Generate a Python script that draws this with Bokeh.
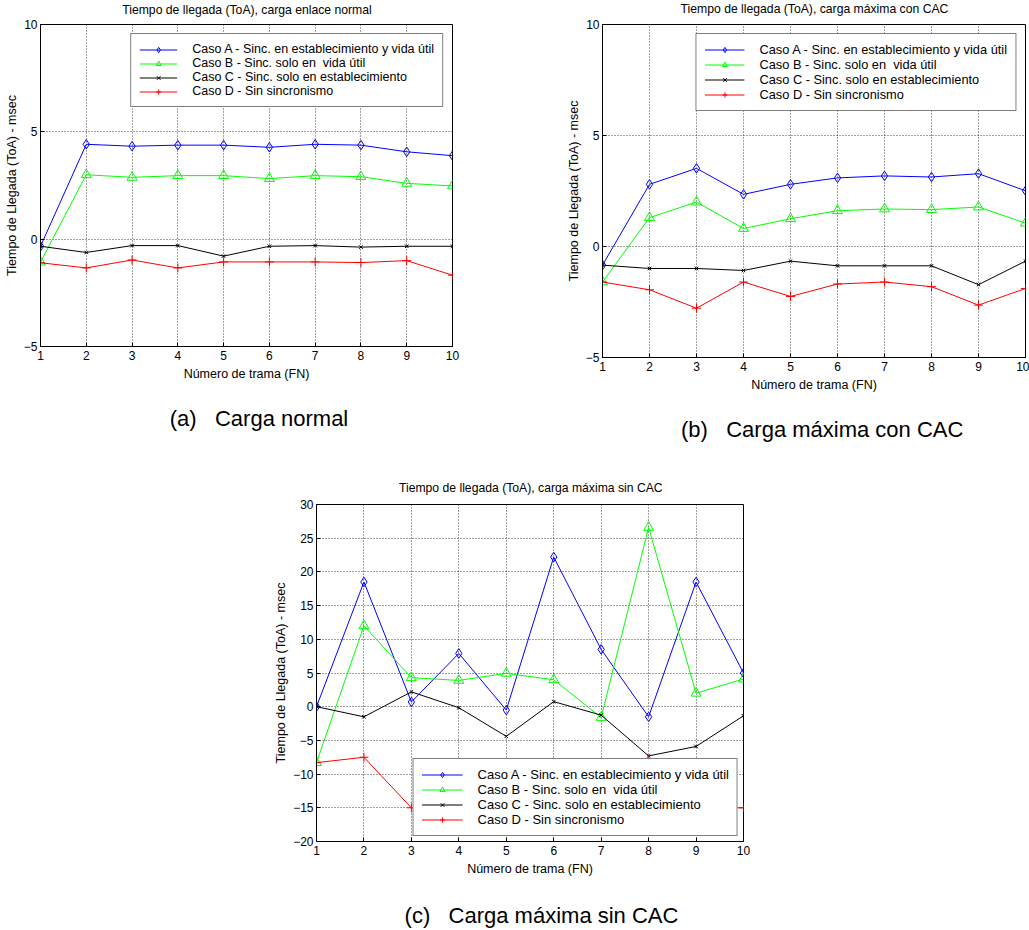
from bokeh.plotting import figure
from bokeh.models import Range1d, FixedTicker, Label, Spacer
from bokeh.layouts import column, row
from bokeh.embed import file_html
from bokeh.resources import INLINE

# ---------------- data ----------------
frames = [1, 2, 3, 4, 5, 6, 7, 8, 9, 10]

series_labels = [
    "Caso A - Sinc. en establecimiento y vida útil",
    "Caso B - Sinc. solo en  vida útil",
    "Caso C - Sinc. solo en establecimiento",
    "Caso D - Sin sincronismo",
]

# (a) carga enlace normal
a_caso_a = [-0.33, 4.42, 4.33, 4.38, 4.38, 4.28, 4.42, 4.38, 4.07, 3.89]
a_caso_b = [-1.07, 3.00, 2.88, 2.96, 2.96, 2.82, 2.96, 2.91, 2.60, 2.48]
a_caso_c = [-0.33, -0.62, -0.30, -0.30, -0.79, -0.33, -0.30, -0.37, -0.33, -0.33]
a_caso_d = [-1.10, -1.34, -0.97, -1.34, -1.06, -1.06, -1.06, -1.09, -1.00, -1.68]

# (b) carga máxima con CAC
b_caso_a = [-0.84, 2.80, 3.52, 2.35, 2.80, 3.09, 3.18, 3.13, 3.28, 2.51]
b_caso_b = [-1.60, 1.30, 2.00, 0.81, 1.25, 1.61, 1.69, 1.66, 1.78, 1.05]
b_caso_c = [-0.84, -0.99, -0.99, -1.08, -0.66, -0.87, -0.87, -0.87, -1.72, -0.66]
b_caso_d = [-1.60, -1.95, -2.78, -1.60, -2.25, -1.69, -1.60, -1.81, -2.64, -1.89]

# (c) carga máxima sin CAC
c_caso_a = [0.0, 18.5, 0.7, 7.9, -0.5, 22.2, 8.5, -1.5, 18.5, 5.0]
c_caso_b = [-8.3, 12.0, 4.3, 3.9, 4.95, 4.0, -1.6, 26.6, 2.0, 4.1]
c_caso_c = [0.0, -1.5, 2.2, -0.15, -4.4, 0.75, -1.25, -7.3, -5.9, -1.35]
c_caso_d = [-8.3, -7.5, -15.0, -15.0, -15.0, -15.0, -15.0, -7.9, -15.0, -15.0]

yticks_ab = [-5, 0, 5, 10]
yticks_c = [-20, -15, -10, -5, 0, 5, 10, 15, 20, 25, 30]

titles = [
    "Tiempo de llegada (ToA), carga enlace normal",
    "Tiempo de llegada (ToA), carga máxima con CAC",
    "Tiempo de llegada (ToA), carga máxima sin CAC",
]
captions = [
    "(a)\u00a0\u00a0\u00a0Carga normal",
    "(b)\u00a0\u00a0\u00a0Carga máxima con CAC",
    "(c)\u00a0\u00a0\u00a0Carga máxima sin CAC",
]
xlabel = "Número de trama (FN)"
ylabel = "Tiempo de Llegada (ToA) - msec"

# ---------------- styles ----------------
colors = ["#0000ff", "#00ff00", "#000000", "#ff0000"]
FONT = "Liberation Sans"
PAGE_W = 1029


def panel(fw, fh, mbl, mbr, mbt, mbb, yr, yticks, data, legend_loc, legend_margin,
          glyph_w, legend_font):
    p = figure(frame_width=fw, frame_height=fh, x_range=Range1d(1, 10), y_range=Range1d(*yr),
               output_backend="svg", toolbar_location=None,
               min_border_left=mbl, min_border_right=mbr,
               min_border_top=mbt, min_border_bottom=mbb)
    if "frame_align" in p.properties():
        p.frame_align = False
    p.background_fill_color = "white"
    p.border_fill_color = "white"
    p.outline_line_color = "black"
    p.outline_line_width = 1
    p.outline_line_alpha = 1

    for g in (p.xgrid[0], p.ygrid[0]):
        g.grid_line_color = "black"
        g.grid_line_dash = "1 2"
        g.grid_line_alpha = 0.75
        g.grid_line_width = 1

    p.xaxis.ticker = FixedTicker(ticks=frames)
    p.yaxis.ticker = FixedTicker(ticks=yticks)
    for ax in (p.xaxis[0], p.yaxis[0]):
        ax.major_tick_in = 4
        ax.major_tick_out = 0
        ax.minor_tick_line_color = None
        ax.axis_line_color = "black"
        ax.major_tick_line_color = "black"
        ax.major_label_text_font = FONT
        ax.major_label_text_font_size = "12px"
        ax.major_label_text_color = "black"
        ax.axis_label_text_font = FONT
        ax.axis_label_text_font_size = "12.5px"
        ax.axis_label_text_font_style = "normal"
        ax.axis_label_text_color = "black"
    p.xaxis.axis_label = xlabel
    p.yaxis.axis_label = ylabel
    p.xaxis.major_label_standoff = 4
    p.xaxis.axis_label_standoff = 4
    p.yaxis.major_label_standoff = 3
    p.yaxis.axis_label_standoff = 2

    va, vb, vc, vd = data
    la, lb, lc, ld = series_labels
    p.line(frames, va, color=colors[0], line_width=1, legend_label=la)
    p.scatter(frames, va, marker="diamond", size=9.5,
              line_color=colors[0], fill_alpha=0, line_width=1, legend_label=la)
    p.line(frames, vb, color=colors[1], line_width=1, legend_label=lb)
    p.scatter(frames, vb, marker="triangle", size=10,
              line_color=colors[1], fill_alpha=0, line_width=1, legend_label=lb)
    p.line(frames, vc, color=colors[2], line_width=1, legend_label=lc)
    p.scatter(frames, vc, marker="x", size=5,
              line_color=colors[2], line_width=1, legend_label=lc)
    p.line(frames, vd, color=colors[3], line_width=1, legend_label=ld)
    p.scatter(frames, vd, marker="cross", size=9,
              line_color=colors[3], line_width=1, legend_label=ld)

    lg = p.legend[0]
    lg.location = legend_loc
    lg.margin = legend_margin
    lg.border_line_color = "black"
    lg.border_line_width = 1.5
    lg.background_fill_color = "white"
    lg.background_fill_alpha = 1
    lg.label_text_font = FONT
    lg.label_text_font_size = legend_font
    lg.label_text_color = "black"
    lg.glyph_width = glyph_w
    lg.glyph_height = 13
    lg.label_height = 13
    lg.label_standoff = 15
    lg.spacing = 0
    lg.padding = 8
    return p


def text_strip(h, items):
    """A blank strip of the page carrying titles / captions as text labels."""
    s = figure(width=PAGE_W, height=h, x_range=Range1d(0, PAGE_W), y_range=Range1d(0, h),
               x_axis_type=None, y_axis_type=None, output_backend="svg",
               toolbar_location=None, min_border=0, min_border_left=0,
               min_border_right=0, min_border_top=0, min_border_bottom=0)
    if "frame_align" in s.properties():
        s.frame_align = False
    s.outline_line_color = None
    s.background_fill_color = "white"
    s.border_fill_color = "white"
    s.xgrid.visible = False
    s.ygrid.visible = False
    for text, x, y, size in items:
        s.add_layout(Label(x=x, y=y, x_units="screen", y_units="screen", text=text,
                           text_align="center", text_baseline="middle",
                           text_font=FONT, text_font_size=size, text_color="black"))
    return s


# strip with the two upper titles (page y 0..18)
top_strip = text_strip(18, [(titles[0], 246.5, 8.9, "12.2px"),
                            (titles[1], 814, 9.4, "12.2px")])

# row 1 (page y 18..400)
pa = panel(412, 322, 40, 96, 6, 54, (-5, 10), yticks_ab,
           [a_caso_a, a_caso_b, a_caso_c, a_caso_d], "top_right", 9, 38, "12.5px")
pb = panel(423, 333, 54, 4, 6, 43, (-5, 10), yticks_ab,
           [b_caso_a, b_caso_b, b_caso_c, b_caso_d], "top_right", 9, 40, "12.8px")

# strip with captions (a), (b) and title (c) (page y 400..496)
mid_strip = text_strip(96, [(captions[0], 258.5, 77.6, "22px"),
                            (captions[1], 821.7, 66.9, "22px"),
                            (titles[2], 530.3, 8.2, "12.2px")])

# row 2 (page y 496..882)
pc = panel(427, 337, 58, 30, 8, 41, (-20, 30), yticks_c,
           [c_caso_a, c_caso_b, c_caso_c, c_caso_d], "bottom_right", 5, 41, "13px")

# strip with caption (c) (page y 882..930)
bottom_strip = text_strip(48, [(captions[2], 541, 14.9, "22px")])

layout = column(top_strip, row(pa, pb), mid_strip,
                row(Spacer(width=258, height=10), pc), bottom_strip)

open("out.html", "w").write(file_html(layout, INLINE))
